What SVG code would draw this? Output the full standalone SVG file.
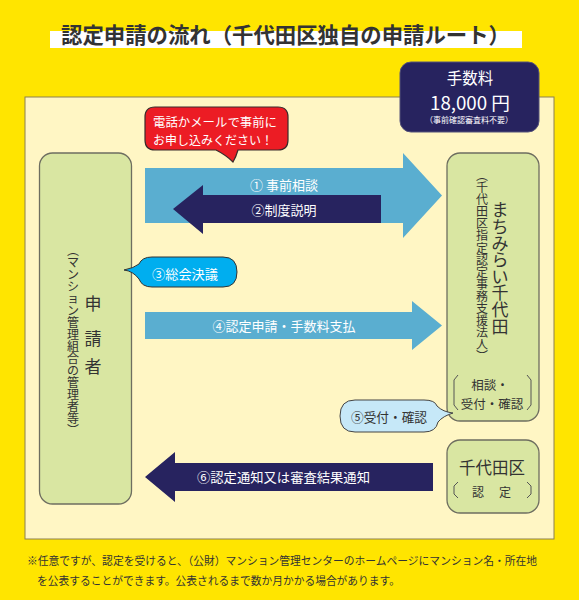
<svg xmlns="http://www.w3.org/2000/svg" width="579" height="600" viewBox="0 0 579 600">
<style>
text{font-family:"Noto Sans CJK JP","Noto Sans",sans-serif;}
.c{text-anchor:middle;dominant-baseline:central;}
.w{fill:#ffffff;}
.d{fill:#333333;}
.box{fill:#d9e6a2;stroke:#6e6e60;stroke-width:1.3;}
.br{fill:none;stroke:#555555;stroke-width:1;}
</style>
<rect x="0" y="0" width="579" height="600" fill="#ffe500"/>
<g id="title">
<rect x="50" y="31" width="472" height="17" fill="#ffffff"/>
<text x="61" y="33" font-size="21.5" font-weight="bold" fill="#333333" dominant-baseline="central" textLength="449" lengthAdjust="spacingAndGlyphs">認定申請の流れ（千代田区独自の申請ルート）</text>
</g>
<rect id="panel" x="25" y="97" width="529" height="442" fill="#fff6c4" stroke="#8c8050" stroke-width="1"/>
<g id="fee">
<rect x="400" y="62" width="139" height="70" rx="11" fill="#27235f" stroke="#55527a" stroke-width="1"/>
<text class="c w" x="470" y="77" font-size="15.5">手数料</text>
<text class="c w" x="470" y="101.5" font-size="18" textLength="80" lengthAdjust="spacingAndGlyphs">18,000 円</text>
<text class="c w" x="469" y="119.5" font-size="8" textLength="88" lengthAdjust="spacingAndGlyphs">（事前確認審査料不要）</text>
</g>
<g id="connectors">
<polygon points="145,168 403,168 403,153 442,195.5 403,238 403,223 145,223" fill="#5aaed0"/>
<polygon points="381,195 203,195 203,185 173,209 203,234 203,223 381,223" fill="#27235f"/>
<polygon points="145,312 412,312 412,301 442,325.5 412,350 412,339 145,339" fill="#5aaed0"/>
<polygon points="433,463 175,463 175,452 145,477 175,502 175,491 433,491" fill="#27235f"/>
<text class="c w" x="284" y="184" font-size="13">① 事前相談</text>
<text class="c w" x="284" y="209" font-size="13">②制度説明</text>
<text class="c w" x="284" y="325" font-size="13">④認定申請・手数料支払</text>
<text x="197" y="476" class="w" font-size="13" dominant-baseline="central" textLength="173" lengthAdjust="spacingAndGlyphs">⑥認定通知又は審査結果通知</text>
</g>
<g id="applicant">
<rect class="box" x="39.5" y="153" width="92" height="351" rx="13"/>
<text class="c d" x="93" y="302" font-size="17">申</text>
<text class="c d" x="93" y="337" font-size="17">請</text>
<text class="c d" x="93" y="365" font-size="17">者</text>
<text class="c d" font-size="12" x="73 73 73 73 73 73 73 73 73 73 73 73 73 73 73 73" y="249 261 273 285 297 309 321 333 345 357 369 381 393 405 417 429">︵マンション管理組合の管理者等︶</text>
</g>
<g id="machimirai">
<rect class="box" x="447" y="153" width="92" height="268" rx="13"/>
<text class="c d" font-size="17" x="500 500 500 500 500 500 500 500" y="208 225 242 258 275 291 308 325">まちみらい千代田</text>
<text class="c d" font-size="12" x="482 482 482 482 482 482 482 482 482 482 482 482 482 482 482 482" y="174 186 198 210 222 234 247 259 271 283 295 307 319 331 343 355">︵千代田区指定認定事務支援法人︶</text>
<path class="br" d="M458,375 L454,380 L454,405 L458,410"/>
<path class="br" d="M527,375 L531,380 L531,405 L527,410"/>
<text class="c d" x="490" y="384" font-size="12.5">相談・</text>
<text class="c d" x="492" y="403" font-size="12.5">受付・確認</text>
</g>
<g id="chiyoda">
<rect class="box" x="447" y="440" width="92" height="73" rx="13"/>
<text class="c d" x="492" y="467" font-size="16.5">千代田区</text>
<path class="br" d="M458,482 L454,486 L454,494 L458,498"/>
<path class="br" d="M527,482 L531,486 L531,494 L527,498"/>
<text class="c d" x="478" y="491" font-size="12">認</text>
<text class="c d" x="505" y="491" font-size="12">定</text>
</g>
<g id="note-red">
<path d="M155,107 H278 Q288,107 288,117 V140 Q288,150 278,150 H238 Q236,157 233,162 Q226,155 216,150 H155 Q145,150 145,140 V117 Q145,107 155,107 Z" fill="#ec1c24" stroke="#3a2a2a" stroke-width="1.2"/>
<text class="w" x="153" y="121" font-size="12.5" dominant-baseline="central" textLength="124" lengthAdjust="spacingAndGlyphs">電話かメールで事前に</text>
<text class="w" x="153" y="139.5" font-size="12.5" dominant-baseline="central" textLength="120" lengthAdjust="spacingAndGlyphs">お申し込みください！</text>
</g>
<g id="step3">
<path d="M152,257 H223 Q237,257 237,272 Q237,287 223,287 H152 Q142,287 139,279 Q133,271 124,270 Q134,268 139,264 Q142,257 152,257 Z" fill="#00aeef" stroke="#333333" stroke-width="1"/>
<text class="w" x="152" y="273" font-size="13" dominant-baseline="central" textLength="66" lengthAdjust="spacingAndGlyphs">③総会決議</text>
</g>
<g id="step5">
<path d="M355,400 H424 Q435,400 437,406 Q443,412 453,413 Q443,416 438,422 Q436,432 424,432 H355 Q340,432 340,416 Q340,400 355,400 Z" fill="#c6e8f8" stroke="#444444" stroke-width="1"/>
<text class="d" x="351" y="416" font-size="13" dominant-baseline="central" textLength="76" lengthAdjust="spacingAndGlyphs">⑤受付・確認</text>
</g>
<g id="footnote">
<text class="d" x="27" y="560" font-size="11" dominant-baseline="central" textLength="510" lengthAdjust="spacingAndGlyphs">※任意ですが、認定を受けると、（公財）マンション管理センターのホームページにマンション名・所在地</text>
<text class="d" x="37" y="580" font-size="11" dominant-baseline="central" textLength="363" lengthAdjust="spacingAndGlyphs">を公表することができます。公表されるまで数か月かかる場合があります。</text>
</g>
</svg>
